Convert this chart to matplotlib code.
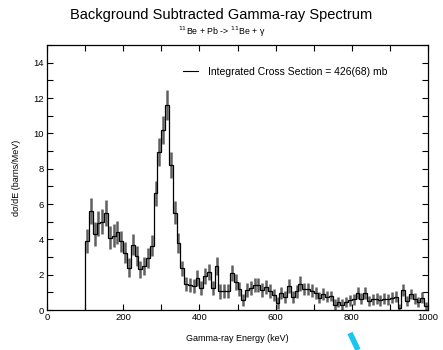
import numpy as np
import matplotlib
matplotlib.use("Agg")
import matplotlib.pyplot as plt
from matplotlib.lines import Line2D

plt.rcParams['font.family'] = ['Liberation Sans', 'DejaVu Sans']

# Histogram bin edges (keV)
bin_start = 100
bin_width = 10
# dσ/dE values per 10 keV bin, 100 -> 1000 keV
counts = [
    3.9, 5.6, 4.3, 4.9, 5.0, 5.5, 4.1, 4.2, 4.4, 3.9,        # 100-200
    3.25, 2.4, 3.7, 3.05, 2.3, 2.5, 2.95, 3.65, 6.6, 8.95,   # 200-300
    10.2, 11.6, 8.2, 5.5, 3.8, 2.35, 1.45, 1.4, 1.35, 1.8,   # 300-400
    1.25, 1.9, 2.15, 1.25, 2.5, 1.05, 1.1, 1.1, 2.1, 1.6,    # 400-500
    1.2, 0.55, 1.15, 1.25, 1.4, 1.4, 1.15, 1.3, 1.1, 0.85,   # 500-600
    0.4, 0.95, 0.75, 1.35, 0.75, 1.05, 1.5, 1.2, 1.2, 1.1,   # 600-700
    0.95, 0.7, 0.9, 0.75, 0.8, 0.3, 0.45, 0.3, 0.45, 0.55,   # 700-800
    0.6, 0.95, 0.65, 0.95, 0.5, 0.6, 0.65, 0.55, 0.65, 0.6,  # 800-900
    0.7, 0.75, 0.1, 1.15, 0.5, 0.9, 0.65, 0.45, 0.7, 0.2,    # 900-1000
]
errors = [
    0.7, 0.75, 0.7, 0.7, 0.7, 0.75, 0.65, 0.65, 0.65, 0.6,
    0.6, 0.55, 0.6, 0.55, 0.5, 0.5, 0.55, 0.6, 0.7, 0.8,
    0.8, 0.85, 0.75, 0.65, 0.55, 0.45, 0.4, 0.4, 0.4, 0.45,
    0.4, 0.45, 0.45, 0.4, 0.5, 0.4, 0.4, 0.4, 0.45, 0.45,
    0.4, 0.35, 0.4, 0.4, 0.4, 0.4, 0.4, 0.4, 0.4, 0.35,
    0.35, 0.35, 0.35, 0.4, 0.35, 0.35, 0.4, 0.35, 0.35, 0.35,
    0.35, 0.3, 0.35, 0.3, 0.3, 0.3, 0.3, 0.3, 0.3, 0.3,
    0.3, 0.35, 0.3, 0.35, 0.3, 0.3, 0.3, 0.3, 0.3, 0.3,
    0.3, 0.3, 0.25, 0.35, 0.3, 0.3, 0.3, 0.3, 0.3, 0.25,
]

x_ticks = [0, 200, 400, 600, 800, 1000]
y_ticks = [0, 2, 4, 6, 8, 10, 12, 14]

edges = bin_start + bin_width * np.arange(len(counts) + 1)
centers = 0.5 * (edges[:-1] + edges[1:])

fig = plt.figure(figsize=(4.43, 3.5), dpi=100)
ax = fig.add_axes([47/443, 40/350, 381/443, 265/350])

ax.errorbar(centers, counts, yerr=errors, fmt='none', ecolor='#606060',
            elinewidth=1.8, capsize=0, zorder=2)
ax.stairs(counts, edges, baseline=0, color='black', linewidth=0.9, zorder=3)

ax.set_xlim(0, 1000)
ax.set_ylim(0, 15)
ax.set_xticks(x_ticks)
ax.set_xticks(np.arange(0, 1001, 100), minor=True)
ax.set_yticks(y_ticks)
ax.set_yticks(np.arange(0, 16, 1), minor=True)
ax.tick_params(which='both', direction='in', top=True, right=True,
               labelsize=6.8, length=4, width=0.8, pad=2)
for s in ax.spines.values():
    s.set_linewidth(0.9)

ax.set_xlabel('Gamma-ray Energy (keV)', fontsize=6.5, labelpad=9)
ax.set_ylabel('dσ/dE (barns/MeV)', fontsize=6.5, labelpad=9)

handle = Line2D([], [], color='black', linewidth=0.8)
ax.legend([handle], ['Integrated Cross Section = 426(68) mb'], loc='center left',
          frameon=False, fontsize=7.5, handlelength=1.4, handletextpad=1.0,
          borderpad=0, borderaxespad=0,
          bbox_to_anchor=((183 - 47) / 381, (310 - 72) / 265))

fig.text(0.5, 0.958, 'Background Subtracted Gamma-ray Spectrum', ha='center',
         va='center', fontsize=10.5)
fig.text(0.5, 0.91, r'$^{11}$Be + Pb -> $^{11}$Be + γ', ha='center', va='center',
         fontsize=6.3)

# cyan mark at bottom right of reference image
fig.add_artist(Line2D([350/443, 358/443], [1 - 333/350, 1 - 350/350],
                      color='#19c6f2', linewidth=4, solid_capstyle='butt'))

fig.savefig('out.png', dpi=100)
